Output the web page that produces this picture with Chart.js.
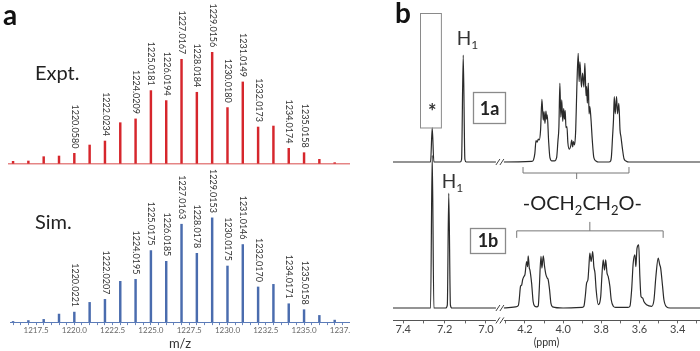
<!DOCTYPE html>
<html>
<head>
<meta charset="utf-8">
<script src="https://cdn.jsdelivr.net/npm/chart.js@4.4.1/dist/chart.umd.min.js"></script>
<style>
  html, body { margin: 0; padding: 0; background: #fff; overflow: hidden; }
  body { width: 700px; height: 351px; position: relative; }
  canvas { position: absolute; }
  #panelA { position: absolute; left: 0; top: 0; width: 350px; height: 351px; overflow: hidden; }
</style>
</head>
<body>
<div id="panelA">
  <canvas id="expt" width="362" height="175" style="left:0;top:0"></canvas>
  <canvas id="sim" width="362" height="203" style="left:0;top:150px"></canvas>
</div>
<canvas id="nmrA" width="307" height="182" style="left:393px;top:0"></canvas>
<canvas id="nmrB" width="307" height="201" style="left:393px;top:150px"></canvas>
<script>
// ---- panel a: isotope pattern (relative intensity, %) ----
var mz = [1216, 1217, 1218, 1219, 1220, 1221, 1222, 1223, 1224, 1225, 1226,
          1227, 1228, 1229, 1230, 1231, 1232, 1233, 1234, 1235, 1236, 1237];
var exptIntensity = [1.8, 2.1, 6.0, 6.6, 9.0, 16.5, 20.1, 36.6, 40.0, 65.5, 56.5,
                     93.7, 64.0, 100, 50.2, 73.3, 32.7, 33.6, 13.5, 9.6, 3.6, 0.6];
var simIntensity = [0.6, 1.5, 2.6, 7.7, 9.6, 18.9, 21.8, 39.1, 41.0, 68.6, 58.3,
                    93.9, 66.0, 100, 53.8, 74.4, 33.7, 36.2, 17.6, 11.9, 6.4, 1.9];
var labelMz = [1220, 1222, 1224, 1225, 1226, 1227, 1228, 1229, 1230, 1231, 1232, 1234, 1235];
var exptLabels = ['1220.0580', '1222.0234', '1224.0209', '1225.0181', '1226.0194', '1227.0167', '1228.0184',
                  '1229.0156', '1230.0180', '1231.0149', '1232.0173', '1234.0174', '1235.0158'];
var simLabels = ['1220.0221', '1222.0207', '1224.0195', '1225.0175', '1226.0185', '1227.0163', '1228.0178',
                 '1229.0153', '1230.0175', '1231.0146', '1232.0170', '1234.0171', '1235.0158'];
var mzTicks = [1217.5, 1220.0, 1222.5, 1225.0, 1227.5, 1230.0, 1232.5, 1235.0, 1237.5];

// ---- panel b: 1H NMR traces (ppm, intensity; H1 = 100) ----
var nmr1aPpm = [7.45, 7.268, 7.26, 7.252, 7.125, 7.118, 7.11, 7.102, 7.095, 6.94,
  4.32, 4.165, 4.155, 4.148, 4.142, 4.136, 4.130, 4.125, 4.118, 4.111, 4.104, 4.100, 4.095, 4.090, 4.086, 4.083, 4.076, 4.069, 4.059,
  4.045, 4.034, 4.027, 4.022, 4.017, 4.012, 4.007, 4.002, 3.997, 3.993, 3.989, 3.985, 3.980, 3.975, 3.968,
  3.960, 3.955, 3.950, 3.946, 3.940, 3.934, 3.928, 3.921, 3.916, 3.912, 3.904, 3.898, 3.891, 3.886, 3.880,
  3.877, 3.873, 3.868, 3.864, 3.860, 3.854, 3.847, 3.839, 3.828, 3.815,
  3.760, 3.751, 3.747, 3.741, 3.736, 3.732, 3.727, 3.720, 3.715, 3.708, 3.702, 3.697, 3.689, 3.681, 3.671, 3.655, 3.283];
var nmr1aInt = [0, 0, 31.8, 0, 0, 2.5, 100, 2.5, 0, 0,
  0, 0.5, 2, 8, 20, 18.5, 21.5, 20.6, 30, 58.6, 39, 47, 36, 47.6, 40, 44, 20, 4, 1,
  1, 4, 20, 33, 73.5, 42, 58, 38, 50, 40, 48, 32, 33, 18, 12,
  15, 20.5, 14, 19, 16, 30, 70, 101.6, 75, 93.7, 70, 83, 70, 92.2, 62,
  70.4, 55, 73.8, 45, 51.7, 40, 20, 4, 1, 0,
  0, 1, 5, 23.6, 40, 61, 45, 61, 45, 54.9, 30, 23.6, 12, 3, 1, 0, 0];

var nmr1bPpm = [7.45, 7.268, 7.26, 7.252, 7.195, 7.187, 7.18, 7.172, 7.165, 6.94,
  4.32, 4.25, 4.235, 4.230, 4.223, 4.217, 4.212, 4.205, 4.200, 4.191, 4.186, 4.183, 4.177, 4.174, 4.165, 4.157, 4.148,
  4.138, 4.130, 4.125, 4.116, 4.111, 4.104, 4.097, 4.090, 4.083, 4.078, 4.071, 4.064, 4.055, 4.000,
  3.900, 3.891, 3.884, 3.877, 3.870, 3.865, 3.860, 3.853, 3.845, 3.839, 3.833, 3.827, 3.816,
  3.803, 3.797, 3.790, 3.783, 3.777, 3.770, 3.764, 3.755, 3.748, 3.737, 3.725,
  3.660, 3.650, 3.641, 3.633, 3.624, 3.619, 3.613, 3.604, 3.598, 3.592, 3.583, 3.577, 3.563, 3.536,
  3.524, 3.514, 3.502, 3.494, 3.489, 3.479, 3.472, 3.458, 3.440, 3.283];
var nmr1bInt = [0, 0, 133, 0, 0, 2.5, 100, 2.5, 0, 0,
  0, 1, 2, 7, 19, 20, 24.6, 27.5, 29, 40.5, 36, 45.5, 34.8, 33.3, 21.7, 5.7, 1.5,
  1, 2, 16, 44.9, 34.8, 45.5, 36, 29, 26, 24.6, 16, 4.3, 1, 0,
  0.5, 1.5, 10, 21.7, 24.6, 36, 47.8, 40.5, 49.2, 36, 30.4, 16, 3,
  10, 27.5, 42, 33, 42, 30.4, 27.5, 18.8, 7.2, 1.5, 0.5,
  0.5, 1.5, 16, 39, 46.3, 36, 52, 55, 27.5, 10, 8.7, 5.7, 2.9, 1.5,
  7.2, 27.5, 43.5, 37.7, 34.8, 18.8, 7.2, 1, 0, 0];
var ppmTicks = [7.4, 7.2, 7.0, 4.2, 4.0, 3.8, 3.6, 3.4];
var ppmMinor = [7.3, 7.1, 4.3, 4.1, 3.9, 3.7, 3.5, 3.3];

Chart.defaults.font.family = 'Lato, "Open Sans", sans-serif';
Chart.defaults.animation = false;

// broken ppm axis: the 7.45-6.93 window is drawn slightly wider and placed next to 4.33
function toAxis(ppm) {
  return ppm > 5 ? 4.404 + (ppm - 7.0) * 1.083 : ppm;
}

function richText(ctx, parts, x, y, align) {
  var w = 0;
  parts.forEach(function(p) { ctx.font = p.f; w += ctx.measureText(p.t).width; });
  var cx = align === 'center' ? x - w / 2 : x;
  ctx.textAlign = 'left';
  ctx.textBaseline = 'alphabetic';
  parts.forEach(function(p) {
    ctx.font = p.f;
    ctx.fillText(p.t, cx, y + (p.dy || 0));
    cx += ctx.measureText(p.t).width;
  });
}

function breakMark(ctx, x, y) {
  ctx.save();
  ctx.fillStyle = '#fff';
  ctx.fillRect(x - 4, y - 2, 8, 4);
  ctx.strokeStyle = '#444';
  ctx.lineWidth = 1;
  [-2, 2].forEach(function(d) {
    ctx.beginPath();
    ctx.moveTo(x + d - 2, y + 3);
    ctx.lineTo(x + d + 2, y - 3);
    ctx.stroke();
  });
  ctx.restore();
}

// rotated m/z labels above the peaks
var peakLabels = {
  id: 'peakLabels',
  afterDatasetsDraw: function(chart, args, opts) {
    var meta = chart.getDatasetMeta(0);
    var ctx = chart.ctx;
    ctx.save();
    ctx.font = '9px Lato';
    ctx.fillStyle = '#333';
    ctx.textAlign = 'right';
    ctx.textBaseline = 'middle';
    opts.texts.forEach(function(t, k) {
      var el = meta.data[mz.indexOf(labelMz[k])];
      ctx.save();
      ctx.translate(el.x + 0.5, el.y - opts.gap);
      ctx.rotate(Math.PI / 2);
      ctx.fillText(t, 0, 0);
      ctx.restore();
    });
    ctx.restore();
  }
};

function msOptions(yMin, yMax, showAxis, labels) {
  return {
    responsive: false,
    layout: { padding: { left: 10, right: 12, top: 0, bottom: 0 } },
    plugins: {
      legend: { display: false },
      tooltip: { enabled: false },
      peakLabels: { texts: labels, gap: 5 }
    },
    scales: {
      x: {
        type: 'linear', min: 1215.8, max: 1238.0, offset: false,
        display: showAxis,
        afterBuildTicks: function(axis) {
          var list = [];
          for (var v = 1216; v < 1238; v += 0.5) list.push({ value: v });
          axis.ticks = list;
        },
        grid: { display: true, offset: false, drawOnChartArea: false, drawTicks: true, tickLength: 3, color: '#6a86bd' },
        border: { color: '#5b7bb8', width: 1 },
        ticks: {
          autoSkip: false, maxRotation: 0, minRotation: 0, padding: 1,
          color: '#666', font: { size: 8 },
          callback: function(value) {
            return mzTicks.some(function(t) { return Math.abs(t - value) < 1e-6; }) ? value.toFixed(1) : '';
          }
        },
        title: { display: true, text: 'm/z', color: '#333', font: { size: 13, lineHeight: 1.1 }, padding: { top: 0, bottom: 2 } }
      },
      y: { display: false, min: yMin, max: yMax }
    }
  };
}

new Chart(document.getElementById('expt'), {
  type: 'bar',
  data: {
    datasets: [{
      data: mz.map(function(m, i) { return { x: m, y: exptIntensity[i] }; }),
      backgroundColor: '#d6262c',
      barThickness: 1.8
    }]
  },
  options: msOptions(-10.5, 147.1, false, exptLabels),
  plugins: [peakLabels, {
    id: 'exptDecor',
    beforeDatasetsDraw: function(chart) {
      var ctx = chart.ctx, y0 = chart.scales.y.getPixelForValue(0), a = chart.chartArea;
      ctx.save();
      ctx.strokeStyle = '#d84a4a';
      ctx.lineWidth = 1;
      ctx.beginPath();
      ctx.moveTo(a.left - 2, y0 + 0.5);
      ctx.lineTo(a.right, y0 + 0.5);
      ctx.stroke();
      ctx.restore();
    },
    afterDraw: function(chart) {
      var ctx = chart.ctx;
      ctx.save();
      ctx.fillStyle = '#111';
      richText(ctx, [{ t: 'a', f: 'bold 28px Lato' }], 3, 25, 'left');
      ctx.fillStyle = '#222';
      richText(ctx, [{ t: 'Expt.', f: '20px Lato' }], 35, 80, 'left');
      ctx.restore();
    }
  }]
});

new Chart(document.getElementById('sim'), {
  type: 'bar',
  data: {
    datasets: [{
      data: mz.map(function(m, i) { return { x: m, y: simIntensity[i] }; }),
      backgroundColor: '#4a6cae',
      barThickness: 1.8
    }]
  },
  options: msOptions(0, 165.1, true, simLabels),
  plugins: [peakLabels, {
    id: 'simDecor',
    afterDraw: function(chart) {
      var ctx = chart.ctx;
      ctx.save();
      ctx.fillStyle = '#222';
      richText(ctx, [{ t: 'Sim.', f: '20px Lato' }], 35, 79.3, 'left');
      ctx.restore();
    }
  }]
});

function nmrOptions(yMin, yMax, showAxis) {
  var all = ppmTicks.concat(ppmMinor).sort(function(a, b) { return b - a; });
  return {
    responsive: false,
    layout: { padding: 0 },
    plugins: { legend: { display: false }, tooltip: { enabled: false } },
    scales: {
      x: {
        type: 'linear', reverse: true, min: 3.283, max: 4.891, offset: false,
        display: showAxis,
        afterBuildTicks: function(axis) {
          axis.ticks = all.map(function(p) { return { value: toAxis(p) }; });
        },
        grid: { display: true, offset: false, drawOnChartArea: false, drawTicks: true, tickLength: 3, color: '#666' },
        border: { color: '#555', width: 1 },
        ticks: {
          autoSkip: false, maxRotation: 0, minRotation: 0, padding: 1,
          color: '#444', font: { size: 11, lineHeight: 1 },
          callback: function(value, index) {
            return ppmTicks.indexOf(all[index]) >= 0 ? all[index].toFixed(1) : '';
          }
        },
        title: { display: true, text: '(ppm)', color: '#333', font: { size: 10.5 }, padding: { top: 0, bottom: 2 } }
      },
      y: { display: false, min: yMin, max: yMax }
    },
    elements: { point: { radius: 0 } }
  };
}

function nmrData(ppm, inten) {
  return {
    datasets: [{
      data: ppm.map(function(p, i) { return { x: toAxis(p), y: inten[i] }; }),
      borderColor: '#2a2a2a',
      borderWidth: 1.2,
      cubicInterpolationMode: 'monotone',
      pointRadius: 0,
      fill: false
    }]
  };
}

new Chart(document.getElementById('nmrA'), {
  type: 'line',
  data: nmrData(nmr1aPpm, nmr1aInt),
  options: nmrOptions(-18.7, 151.4, false),
  plugins: [{
    id: 'nmrADecor',
    afterDraw: function(chart) {
      var ctx = chart.ctx, xs = chart.scales.x, ys = chart.scales.y;
      var X = function(p) { return xs.getPixelForValue(toAxis(p)); };
      var Y = function(v) { return ys.getPixelForValue(v); };
      ctx.save();
      breakMark(ctx, xs.getPixelForValue(4.331), Y(0));
      // solvent box
      ctx.strokeStyle = '#8a8a8a';
      ctx.lineWidth = 1;
      ctx.strokeRect(Math.round(X(7.319)) + 0.5, Math.round(Y(139)) + 0.5, X(7.218) - X(7.319), Y(32) - Y(139));
      ctx.fillStyle = '#333';
      richText(ctx, [{ t: '*', f: 'bold 20px Lato' }], X(7.26), Y(50.5) + 11, 'center');
      richText(ctx, [{ t: 'H', f: '19px Lato' }, { t: '1', f: '12px Lato', dy: 4 }], X(7.11) - 6.5, Y(109.3), 'left');
      // compound label
      ctx.strokeStyle = '#8a8a8a';
      ctx.lineWidth = 1.3;
      ctx.strokeRect(80.5, 92.5, 32, 31);
      ctx.fillStyle = '#222';
      richText(ctx, [{ t: '1a', f: 'bold 18px Lato' }], 96.5, 115, 'center');
      // bracket under the OCH2CH2O multiplets
      ctx.strokeStyle = '#777';
      ctx.lineWidth = 1;
      ctx.beginPath();
      ctx.moveTo(X(4.21), Y(-4.7));
      ctx.lineTo(X(4.21), Y(-10.3));
      ctx.lineTo(X(3.655), Y(-10.3));
      ctx.lineTo(X(3.655), Y(-4.7));
      ctx.moveTo(X(3.929), Y(-10.3));
      ctx.lineTo(X(3.929), Y(-15.9));
      ctx.stroke();
      ctx.fillStyle = '#111';
      richText(ctx, [{ t: 'b', f: 'bold 28px Lato' }], 2, 23.3, 'left');
      ctx.restore();
    }
  }]
});

new Chart(document.getElementById('nmrB'), {
  type: 'line',
  data: nmrData(nmr1bPpm, nmr1bInt),
  options: nmrOptions(-10.8, 137.65, true),
  plugins: [{
    id: 'nmrBDecor',
    afterDraw: function(chart) {
      var ctx = chart.ctx, xs = chart.scales.x, ys = chart.scales.y;
      var X = function(p) { return xs.getPixelForValue(toAxis(p)); };
      var Y = function(v) { return ys.getPixelForValue(v); };
      ctx.save();
      breakMark(ctx, xs.getPixelForValue(4.331), Y(0));
      breakMark(ctx, xs.getPixelForValue(4.331), chart.chartArea.bottom);
      ctx.fillStyle = '#333';
      richText(ctx, [{ t: 'H', f: '19px Lato' }, { t: '1', f: '12px Lato', dy: 4 }], X(7.18) - 7, Y(104.6), 'left');
      ctx.strokeStyle = '#8a8a8a';
      ctx.lineWidth = 1.3;
      ctx.strokeRect(77.5, 78.5, 35, 25);
      ctx.fillStyle = '#222';
      richText(ctx, [{ t: '1b', f: 'bold 18px Lato' }], 95, 96.7, 'center');
      richText(ctx, [
        { t: '-OCH', f: '20px Lato' }, { t: '2', f: '13px Lato', dy: 5 },
        { t: 'CH', f: '20px Lato' }, { t: '2', f: '13px Lato', dy: 5 },
        { t: 'O-', f: '20px Lato' }
      ], X(3.899), Y(85.5), 'center');
      ctx.strokeStyle = '#777';
      ctx.lineWidth = 1;
      ctx.beginPath();
      ctx.moveTo(X(4.243), Y(61.1));
      ctx.lineTo(X(4.243), Y(67.2));
      ctx.lineTo(X(3.476), Y(67.2));
      ctx.lineTo(X(3.476), Y(61.1));
      ctx.moveTo(X(3.860), Y(67.2));
      ctx.lineTo(X(3.860), Y(75));
      ctx.stroke();
      ctx.restore();
    }
  }]
});
</script>
</body>
</html>
